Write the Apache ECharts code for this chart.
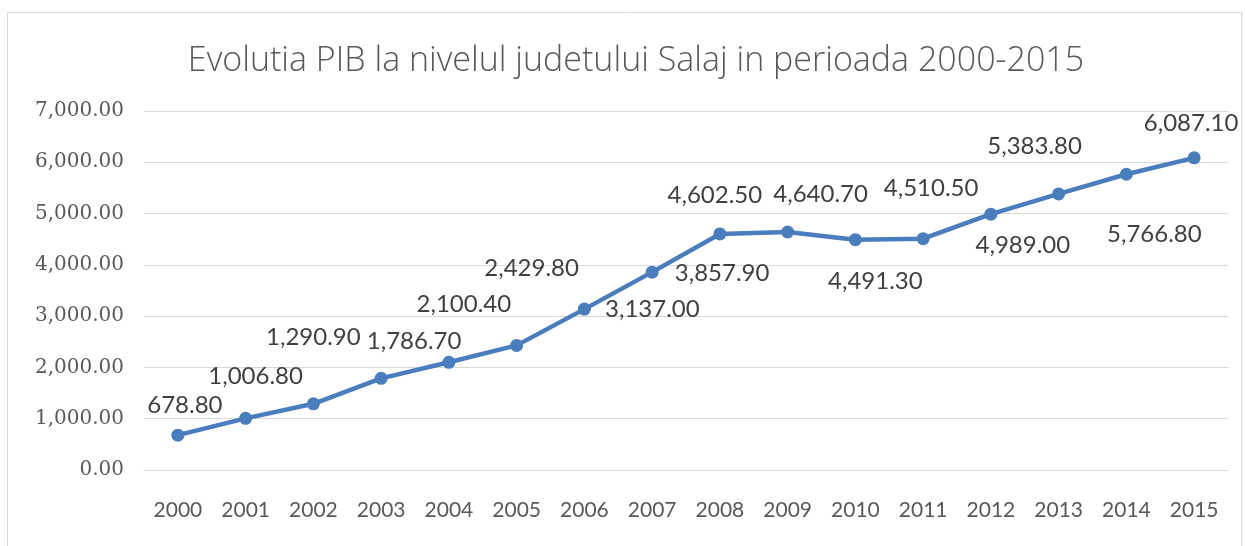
<!DOCTYPE html>
<html>
<head>
<meta charset="utf-8">
<script src="https://cdn.jsdelivr.net/npm/echarts@6/dist/echarts.min.js"></script>
<style>
  html, body { margin: 0; padding: 0; background: #fff; }
  #chart { width: 1245px; height: 546px; }
</style>
</head>
<body>
<div id="chart"></div>
<script>
// categorii si valori PIB
var years = ["2000", "2001", "2002", "2003", "2004", "2005", "2006", "2007",
  "2008", "2009", "2010", "2011", "2012", "2013", "2014", "2015"];
var pib = [678.8, 1006.8, 1290.9, 1786.7, 2100.4, 2429.8, 3137.0, 3857.9,
  4602.5, 4640.7, 4491.3, 4510.5, 4989.0, 5383.8, 5766.8, 6087.1];
var yTicks = [0, 1000, 2000, 3000, 4000, 5000, 6000, 7000];

// pozitia etichetelor fata de punct (ca in Excel)
var labelOffsets = [
  [7, -30], [10, -42], [0, -67], [33, -37], [15, -58], [15, -77],
  [68, 0], [70, 1], [-5, -39], [33, -38], [20, 42], [8, -50],
  [32, 31], [-24, -48], [28, 60], [-3, -35]
];

function fmt(v) {
  return v.toLocaleString("en-US", { minimumFractionDigits: 2, maximumFractionDigits: 2 });
}

var chart = echarts.init(document.getElementById("chart"), null, { renderer: "canvas" });

chart.setOption({
  animation: false,
  title: {
    text: "Evolutia PIB la nivelul judetului Salaj in perioada 2000-2015",
    left: 631,
    top: 39,
    textAlign: "center",
    textStyle: { fontFamily: "Open Sans", fontWeight: 300, fontSize: 34, color: "#595959" }
  },
  graphic: [{
    type: "rect",
    shape: { x: 7.5, y: 12.5, width: 1234, height: 545 },
    style: { fill: "none", stroke: "#d9d9d9", lineWidth: 1 },
    silent: true
  }],
  grid: { left: 144, right: 17, top: 111, bottom: 76 },
  xAxis: {
    type: "category",
    data: years,
    boundaryGap: true,
    axisLine: { lineStyle: { color: "#d9d9d9" } },
    axisTick: { show: false },
    axisLabel: { margin: 30, fontFamily: "Lato", fontSize: 21, color: "#595959" }
  },
  yAxis: {
    type: "value",
    min: yTicks[0],
    max: yTicks[yTicks.length - 1],
    interval: 1000,
    axisLine: { show: false },
    axisTick: { show: false },
    splitLine: { lineStyle: { color: "#d9d9d9" } },
    axisLabel: {
      margin: 20,
      fontFamily: "DejaVu Serif",
      fontSize: 20,
      color: "#595959",
      formatter: fmt
    }
  },
  series: [{
    type: "line",
    data: pib.map(function (v, i) {
      return { value: v, label: { offset: labelOffsets[i] } };
    }),
    symbol: "circle",
    symbolSize: 13,
    lineStyle: { color: "#4a7dbd", width: 4.5 },
    itemStyle: { color: "#4a7dbd" },
    label: {
      show: true,
      position: "inside",
      align: "center",
      verticalAlign: "middle",
      fontFamily: "Lato",
      fontSize: 24,
      color: "#404040",
      formatter: function (p) { return fmt(p.value); }
    }
  }]
});
</script>
</body>
</html>
